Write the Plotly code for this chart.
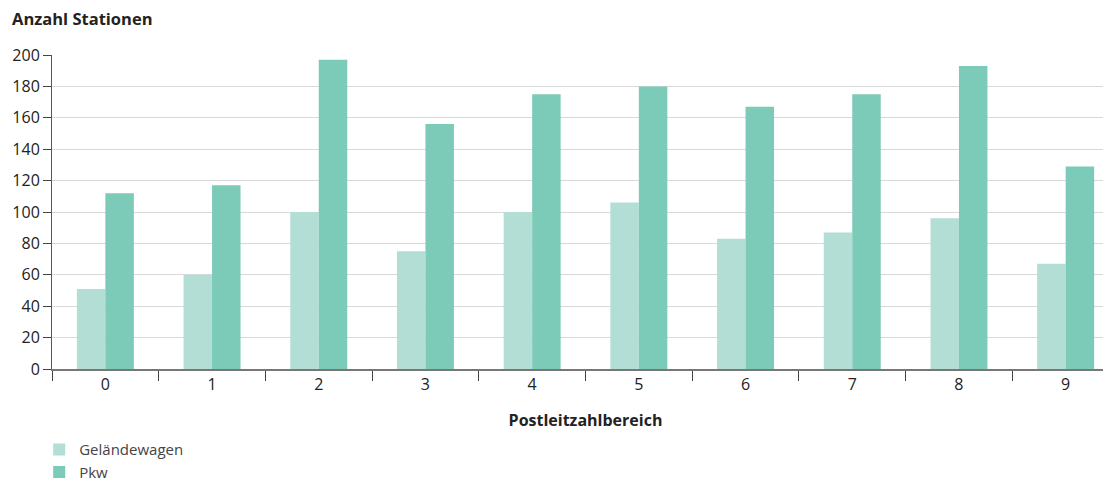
import plotly.graph_objects as go

categories = ["0", "1", "2", "3", "4", "5", "6", "7", "8", "9"]
gelaendewagen = [51, 60, 100, 75, 100, 106, 83, 87, 96, 67]
pkw = [112, 117, 197, 156, 175, 180, 167, 175, 193, 129]
y_ticks = [0, 20, 40, 60, 80, 100, 120, 140, 160, 180, 200]

FONT = "Open Sans"
FS = 16
fig = go.Figure()
fig.add_trace(go.Bar(x=categories, y=gelaendewagen, name="Geländewagen",
                     marker=dict(color="#b3ded5", line=dict(width=0))))
fig.add_trace(go.Bar(x=categories, y=pkw, name="Pkw",
                     marker=dict(color="#7bcbb8", line=dict(width=0))))

fig.update_layout(
    width=1111, height=471,
    margin=dict(l=44, r=0, t=47, b=110, autoexpand=False),
    paper_bgcolor="white", plot_bgcolor="white",
    barmode="group", bargap=0.466, bargroupgap=0,
    font=dict(family=FONT, size=FS, color="#222222"),
    title=dict(text="<b>Anzahl Stationen</b>", x=4/1111, xanchor="left",
               y=1 - 11/471, yanchor="middle", xref="container", yref="container",
               font=dict(family=FONT, size=16.5, color="#222222")),
    legend=dict(orientation="v", x=-0.012, xanchor="left", y=-0.205, yanchor="top",
                font=dict(family=FONT, size=15, color="#444444"),
                tracegroupgap=0, itemwidth=30, bgcolor="rgba(0,0,0,0)"),
    showlegend=True,
)
fig.update_xaxes(
    type="category", range=[-0.5, 9.5], automargin=False,
    showline=True, linecolor="#777777", linewidth=2,
    ticks="outside", tickson="boundaries", ticklen=10, tickcolor="#444444", tickwidth=1,
    showgrid=False,
    tickfont=dict(family=FONT, size=FS, color="#222222"),
    title=dict(text="<b>Postleitzahlbereich</b>", standoff=21,
               font=dict(family=FONT, size=FS, color="#222222")),
)
fig.update_yaxes(
    range=[0, 200], tickvals=y_ticks, automargin=False,
    showline=True, linecolor="#555555", linewidth=1,
    ticks="outside", ticklen=8, tickcolor="#444444", tickwidth=1,
    showgrid=True, gridcolor="#d9d9d9", gridwidth=1,
    zeroline=False,
    tickfont=dict(family=FONT, size=FS, color="#222222"),
)
fig.write_html("out.html")
